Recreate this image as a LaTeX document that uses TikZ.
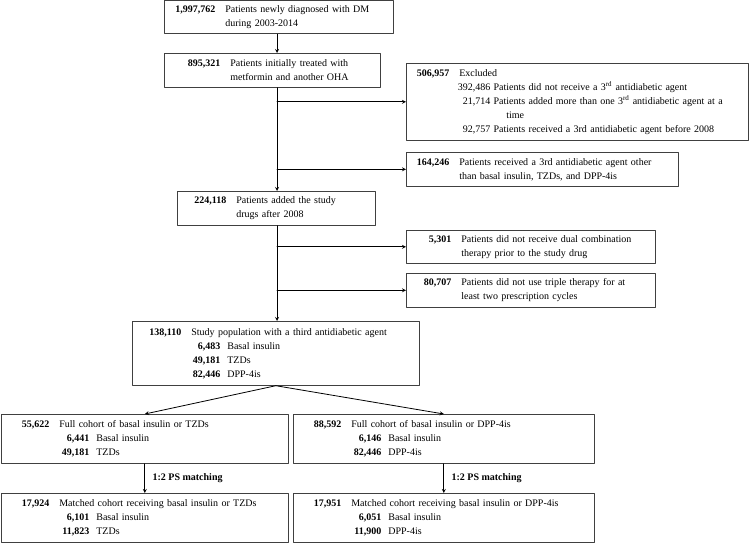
\documentclass[tikz,border=0pt]{standalone}
\usepackage{fontspec}
\setmainfont{Liberation Serif}
% count in bold, right aligned, then the text
\newcommand{\cnum}[2][48pt]{\makebox[#1][r]{\textbf{#2}}\hspace{10pt}}
\newcommand{\cskip}[1][48pt]{\hspace{\dimexpr#1+10pt\relax}}
\newcommand{\snum}[1]{\makebox[88pt][r]{\textbf{#1}}\hspace{7pt}}
\newcommand{\xnum}[1]{\hspace{51pt}\makebox[33pt][r]{#1} }
\begin{document}
\begin{tikzpicture}[x=1pt,y=-1pt,line cap=round,line join=round,>=stealth,
  box/.style={draw=black!75,line width=0.7pt,anchor=north west,inner xsep=0pt,inner ysep=1pt,
    align=left,font=\fontsize{10}{14}\selectfont},
  flow/.style={->,line width=0.8pt},
  lbl/.style={right,xshift=4pt,font=\fontsize{10}{12}\selectfont\bfseries}]
\useasboundingbox (0,0) rectangle (750,543);

% main column
\node[box,text width=229pt,minimum height=33pt] (dm) at (164,0.5)
  {\cnum[51pt]{1,997,762}Patients newly diagnosed with DM\\ \cskip[51pt]during 2003-2014};
\node[box,text width=216pt,minimum height=34pt] (met) at (164,53)
  {\cnum[56pt]{895,321}Patients initially treated with\\ \cskip[56pt]metformin and another OHA};
\node[box,text width=198pt,minimum height=34pt] (add) at (177,191)
  {\cnum[49pt]{224,118}Patients added the study\\ \cskip[49pt]drugs after 2008};
\node[box,text width=287pt,minimum height=64pt] (pop) at (132,321)
  {\cnum[49pt]{138,110}Study population with a third antidiabetic agent\\
   \snum{6,483}Basal insulin\\ \snum{49,181}TZDs\\ \snum{82,446}DPP-4is};

% exclusions
\node[box,text width=342pt,minimum height=77pt] (excl) at (406,63)
  {\cnum[43pt]{506,957}Excluded\\
   \xnum{392,486}Patients did not receive a 3\textsuperscript{rd} antidiabetic agent\\
   \xnum{21,714}Patients added more than one 3\textsuperscript{rd} antidiabetic agent at a\\
   \hspace{100pt}time\\
   \xnum{92,757}Patients received a 3rd antidiabetic agent before 2008};
\node[box,text width=272pt,minimum height=34pt] (oth) at (406,152)
  {\cnum[43pt]{164,246}Patients received a 3rd antidiabetic agent other\\
   \cskip[43pt]than basal insulin, TZDs, and DPP-4is};
\node[box,text width=249pt,minimum height=33pt] (dual) at (406,230)
  {\cnum[45pt]{5,301}Patients did not receive dual combination\\
   \cskip[45pt]therapy prior to the study drug};
\node[box,text width=249pt,minimum height=34pt] (trip) at (406,273)
  {\cnum[45pt]{80,707}Patients did not use triple therapy for at\\
   \cskip[45pt]least two prescription cycles};

% cohorts
\node[box,text width=287pt,minimum height=49pt] (cohA) at (1,414)
  {\cnum{55,622}Full cohort of basal insulin or TZDs\\
   \snum{6,441}Basal insulin\\ \snum{49,181}TZDs};
\node[box,text width=301pt,minimum height=49pt] (cohB) at (293,414)
  {\cnum{88,592}Full cohort of basal insulin or DPP-4is\\
   \snum{6,146}Basal insulin\\ \snum{82,446}DPP-4is};
\node[box,text width=287pt,minimum height=49pt] (matA) at (1,493)
  {\cnum{17,924}Matched cohort receiving basal insulin or TZDs\\
   \snum{6,101}Basal insulin\\ \snum{11,823}TZDs};
\node[box,text width=301pt,minimum height=49pt] (matB) at (293,493)
  {\cnum{17,951}Matched cohort receiving basal insulin or DPP-4is\\
   \snum{6,051}Basal insulin\\ \snum{11,900}DPP-4is};

% connectors
\coordinate (spine) at (277,0);
\draw[flow] (spine |- dm.south) -- (spine |- met.north);
\draw[flow] (spine |- met.south) -- (spine |- add.north);
\draw[flow] (spine |- excl.west) -- (excl.west);
\draw[flow] (spine |- oth.west) -- (oth.west);
\draw[flow] (spine |- add.south) -- (spine |- pop.north);
\draw[flow] (spine |- dual.west) -- (dual.west);
\draw[flow] (spine |- trip.west) -- (trip.west);
\draw[flow] (pop.south) -- (cohA.north);
\draw[flow] (pop.south) -- (cohB.north);
\draw[flow] (cohA.south) -- node[lbl] {1:2 PS matching} (matA.north);
\draw[flow] (cohB.south) -- node[lbl] {1:2 PS matching} (matB.north);
\end{tikzpicture}
\end{document}
